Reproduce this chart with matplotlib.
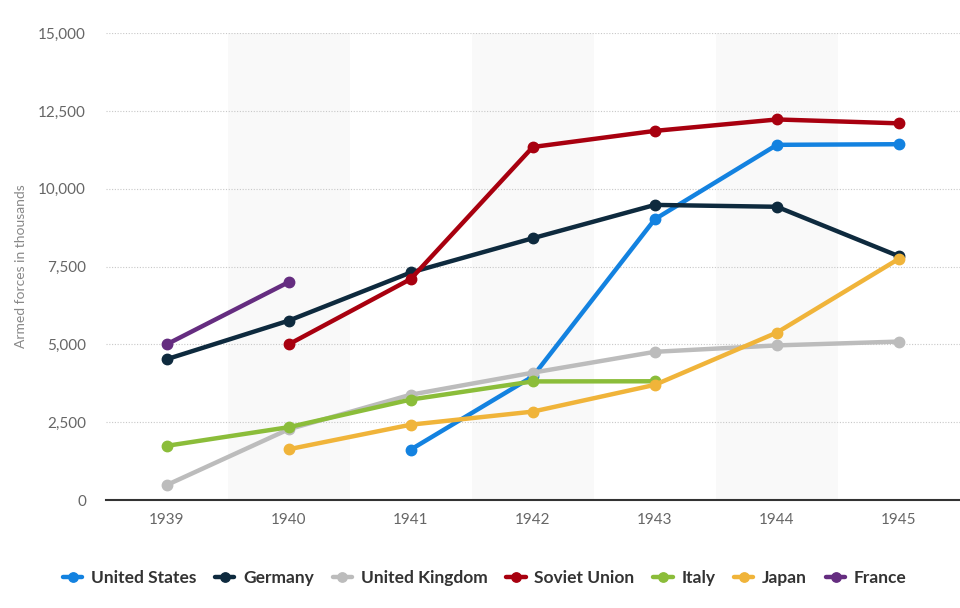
#!/usr/bin/python3
# Armed forces of the main WWII powers, 1939-1945.

import numpy as np
import matplotlib
matplotlib.use('Agg')
import matplotlib.pyplot as plt
from matplotlib.ticker import FuncFormatter

years = ['1939', '1940', '1941', '1942', '1943', '1944', '1945']
nan = np.nan

# Values in thousands, nan where the country has no value.
united_states = [nan, nan, 1620, 3970, 9020, 11410, 11430]
germany = [4522, 5762, 7309, 8410, 9480, 9420, 7830]
united_kingdom = [480, 2273, 3383, 4091, 4761, 4967, 5090]
soviet_union = [nan, 5000, 7100, 11340, 11858, 12225, 12100]
italy = [1740, 2340, 3227, 3810, 3815, nan, nan]
japan = [nan, 1630, 2420, 2840, 3700, 5380, 7750]
france = [5000, 7000, nan, nan, nan, nan, nan]

series = [
  ('United States', united_states, '#1382e0'),
  ('Germany', germany, '#0e2a3e'),
  ('United Kingdom', united_kingdom, '#bcbcbc'),
  ('Soviet Union', soviet_union, '#a8000f'),
  ('Italy', italy, '#8bbd3a'),
  ('Japan', japan, '#f0b43a'),
  ('France', france, '#652d80'),
]

plt.rcParams['font.family'] = ['Lato', 'DejaVu Sans']

fig = plt.figure(figsize=(9.6, 6.08), dpi=100)
ax = fig.add_axes([0.110, 0.1776, 0.890, 0.768])

x = np.arange(len(years))
# Alternate background bands.
for i in x:
  if i % 2 == 1:
    ax.axvspan(i - 0.5, i + 0.5, color='#f9f9f9', zorder=0, lw=0)

for name, vals, color in series:
  ax.plot(x, vals, color=color, lw=3.2, marker='o', ms=7.5, label=name,
          solid_capstyle='round', zorder=3)

ax.set_xlim(-0.5, len(years) - 0.5)
ax.set_ylim(0, 15000)
ax.set_yticks(np.arange(0, 15001, 2500))
ax.yaxis.set_major_formatter(FuncFormatter(lambda v, p: '{:,.0f}'.format(v)))
ax.set_xticks(x)
ax.set_xticklabels(years)
ax.grid(axis='y', color='#c8c8c8', linestyle=(0, (1, 1.5)), lw=0.8, zorder=1)
ax.tick_params(length=0, labelsize=11, colors='#666666', pad=9)
ax.tick_params(axis='y', pad=14)
for s in ['top', 'right', 'left']:
  ax.spines[s].set_visible(False)
ax.spines['bottom'].set_color('#333333')
ax.spines['bottom'].set_linewidth(1.5)
ax.spines['bottom'].set_zorder(2)

ax.set_ylabel('Armed forces in thousands', fontsize=10, color='#888888')
ax.yaxis.set_label_coords(-0.092, 0.5)

leg = fig.legend(loc='center', bbox_to_anchor=(0.505, 0.049), ncol=7, frameon=False,
                 handlelength=1.1, handletextpad=0.5, columnspacing=1.1,
                 prop={'weight': 'bold', 'size': 12.5}, markerscale=0.9)
for t in leg.get_texts():
  t.set_color('#333333')

fig.savefig('out.png', dpi=100)
